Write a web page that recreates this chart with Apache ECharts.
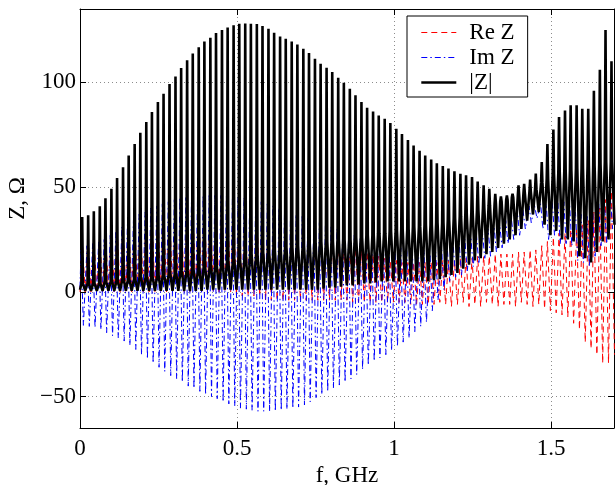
<!DOCTYPE html>
<html><head><meta charset="utf-8">
<script src="https://cdn.jsdelivr.net/npm/echarts@6/dist/echarts.min.js"></script>
<style>html,body{margin:0;padding:0;background:#fff}#c{width:616px;height:485px}</style>
</head><body><div id="c"></div>
<script>
// ---- data ----
const seriesNames = ['Re Z', 'Im Z', '|Z|'];
const xTickLabels = ['0', '0.5', '1', '1.5'];
const yTickLabels = ['\u221250', '0', '50', '100'];

// frequency (GHz) of each |Z| resonance peak
const freqPeak = [
0.007,0.026,0.044,0.063,0.081,0.100,0.118,0.137,0.155,0.174,
0.192,0.211,0.229,0.248,0.266,0.285,0.304,0.322,0.341,0.359,
0.378,0.396,0.415,0.433,0.452,0.470,0.489,0.507,0.526,0.544,
0.563,0.581,0.600,0.618,0.637,0.655,0.674,0.692,0.711,0.729,
0.748,0.766,0.785,0.803,0.822,0.840,0.859,0.877,0.896,0.914,
0.933,0.951,0.970,0.988,1.007,1.025,1.044,1.062,1.081,1.099,
1.118,1.136,1.155,1.173,1.192,1.211,1.229,1.248,1.266,1.285,
1.303,1.322,1.340,1.359,1.377,1.396,1.414,1.433,1.451,1.470,
1.488,1.507,1.525,1.544,1.562,1.581,1.599,1.618,1.636,1.655,
1.673,1.692];

// values at f = 0 : |Z|, Re Z, Im Z
const valuesAtZero = [1, 0, 2];

// |Z| : peak, shoulder (flank) and trough (after each peak)
const absPeak = [
35.7,36.5,38.5,40.9,44.7,49.2,54.3,59.5,65.1,70.5,
75.9,81.0,85.8,90.6,94.6,99.2,102.8,106.8,110.5,113.7,
116.8,119.5,121.3,123.5,125.0,126.2,127.2,128.0,128.1,127.9,
127.8,126.9,125.6,123.7,121.9,120.8,119.5,118.0,116.0,114.0,
111.3,108.9,107.0,104.9,102.2,99.8,96.9,93.8,90.6,87.9,
86.1,84.2,82.6,80.6,77.8,75.3,72.5,69.8,67.3,65.1,
63.1,61.4,60.0,58.8,57.6,56.4,55.6,54.8,52.7,50.8,
49.2,46.8,45.5,46.0,46.8,50.8,51.6,53.6,56.4,62.0,
70.6,77.5,83.4,86.6,89.0,89.0,87.4,87.4,96.0,106.0,
125.0,110.0];
const absShoulder = [
4,4,4,4,5,5,5,6,6,6,
7,7,7,8,8,9,9,10,10,11,
11,12,12,13,14,14,15,16,17,18,
18,19,19,20,20,21,21,22,22,23,
23,24,24,24,25,25,25,26,26,27,
27,28,28,29,29,30,30,31,31,32,
32,33,33,34,35,36,37,38,39,40,
41,42,43,44,45,46,47,48,49,52,
54,56,57,58,58,59,59,60,60,61,
62,62];
const absTrough = [
0.5,0.5,0.5,0.5,0.5,0.5,0.5,0.5,0.5,0.5,
0.5,0.5,0.5,0.5,0.5,0.5,0.5,0.5,0.5,0.5,
0.5,1,1,1,1,1,1,1,1,1,
1,1,1,1,1,1,1,1,1,1,
1,1.5,2,2,2.5,3,3,3.5,4,4,
4.5,5,5,5,5,5,5,5,5,5,
5.5,6,7,8,9,11,13,15,16,18,
19,21,23,25,27,30,34,37,38,32,
27,29,25,25,24,17,16,14,19,24,
25,32];

// Re Z : peak (at resonance) and trough (after each peak)
const rePeak = [
25,26,27,28,29,30,31,32,33,34,
35,36,37,38,39,40,40,41,41,42,
42,42,42,42,42,41,41,40,40,39,
38,37,36,35,34,33,32,31,30,29,
28,27,26,25,24,23,22,21,20,19,
18,17,16,15,15,14,14,14,14,14,
14,14,15,15,15,16,16,16,17,17,
17,18,18,18,18,19,19,20,20,22,
24,26,28,28,30,30,32,34,38,40,
44,48];
const reTrough = [
0,0,0,0,0,0,0,0,0,0,
0,0,0,0,0,0,0,0,0,0,
0,0,0,0,0,0,-2,-2,-2,-2,
-2,-4,-4,-4,-4,-4,-4,-4,-4,-4,
-4,-4,-4,-4,-4,-4,-5,-5,-5,-5,
-5,-5,-5,-5,-5,-5,-6,-6,-6,-6,
-6,-5,-6,-7,-6,-5,-7,-6,-7,-5,
-6,-7,-6,-6,-7,-5,-6,-7,-6,-8,
-9,-10,-11,-12,-15,-18,-24,-27,-30,-34,
-34,-30];

// Im Z : positive extreme (below resonance) and negative extreme (above resonance)
const imPeak = [
20,22,23,24,25,27,29,31,33,35,
37,38,40,41,42,43,44,45,45,46,
46,46,46,46,46,46,45,45,45,44,
44,43,42,41,40,39,38,37,36,35,
34,33,32,31,30,29,28,27,26,25,
24,23,22,22,21,21,20,20,20,20,
18,19,20,21,22,23,25,26,27,28,
30,31,32,34,35,38,39,41,41,42,
42,43,43,43,43,38,37,36,38,42,
43,45];
const imTrough = [
-16,-16.5,-17,-18,-19.5,-21,-22,-23.5,-25.5,-27.5,
-30,-32,-34,-36,-38,-40,-41.5,-43,-45,-46,
-47.5,-49,-50,-51,-52.5,-53.5,-54.5,-55.5,-56,-56.5,
-57,-57,-57,-57,-56.5,-56,-55.5,-55,-54,-52.5,
-50.5,-49,-47.5,-46,-44.5,-43,-41.5,-39.5,-37,-35,
-33,-31.5,-30,-28,-26,-24,-22,-19,-16.5,-14.5,
-9,-4,1,5,7,8,10,12,14,16,
17,19,21,23,25,27,30,33,35,30,
25,27,23,23,22,15,14,12,17,22,
23,30];

// ---- build the polylines from the arrays ----
function spacing(k) {
  return k < freqPeak.length - 1 ? freqPeak[k + 1] - freqPeak[k] : freqPeak[k] - freqPeak[k - 1];
}
const absData = [[0, valuesAtZero[0]]];
const reData = [[0, valuesAtZero[1]]];
const imData = [[0, valuesAtZero[2]]];
for (let k = 0; k < freqPeak.length; k++) {
  const f = freqPeak[k], P = spacing(k);
  absData.push([f - 0.12 * P, absShoulder[k]], [f, absPeak[k]], [f + 0.12 * P, absShoulder[k]], [f + 0.5 * P, absTrough[k]]);
  reData.push([f, rePeak[k]], [f + 0.5 * P, reTrough[k]]);
  imData.push([f - 0.2 * P, imPeak[k]], [f + 0.2 * P, imTrough[k]]);
}

const FONT = '"Liberation Serif", "Times New Roman", serif';
const black = '#000';
const gridLine = { show: true, lineStyle: { color: '#8c8c8c', width: 1, type: [1, 3] } };
const tickIn = { show: true, inside: true, length: 6, lineStyle: { color: black, width: 1 } };
const labelStyle = { fontFamily: FONT, fontSize: 23, color: black };

function xFmt(v) { const i = [0, 0.5, 1, 1.5].indexOf(+v.toFixed(3)); return i >= 0 ? xTickLabels[i] : ''; }
function yFmt(v) { const i = [-50, 0, 50, 100].indexOf(Math.round(v)); return i >= 0 ? yTickLabels[i] : ''; }

const chart = echarts.init(document.getElementById('c'), null, { renderer: 'canvas' });
chart.setOption({
  animation: false,
  backgroundColor: '#fff',
  grid: { left: 80, right: 2, top: 9, bottom: 57, containLabel: false, outerBoundsMode: 'none' },
  legend: {
    data: seriesNames, orient: 'vertical', left: 407, top: 16,
    padding: [5, 13, 3, 13], itemWidth: 35, itemHeight: 14, itemGap: 2,
    borderColor: black, borderWidth: 1, backgroundColor: '#fff',
    itemStyle: { opacity: 0, borderWidth: 0 },
    lineStyle: { width: 'inherit', type: 'inherit' },
    textStyle: { fontFamily: FONT, fontSize: 23, color: black, padding: [0, 0, 0, 8] }
  },
  xAxis: [
    { type: 'value', position: 'bottom', min: 0, max: 1.7, interval: 0.5,
      name: 'f, GHz', nameLocation: 'middle', nameGap: 16,
      nameTextStyle: labelStyle,
      axisLine: { show: true, onZero: false, lineStyle: { color: black, width: 1 } },
      axisTick: tickIn,
      axisLabel: Object.assign({ margin: 9, formatter: xFmt, showMaxLabel: false }, labelStyle),
      splitLine: gridLine },
    { type: 'value', position: 'top', min: 0, max: 1.7, interval: 0.5,
      axisLine: { show: true, onZero: false, lineStyle: { color: black, width: 1 } },
      axisTick: tickIn, axisLabel: { show: false }, splitLine: { show: false } }
  ],
  yAxis: [
    { type: 'value', position: 'left', min: -65, max: 135, splitNumber: 4,
      name: 'Z, \u03A9', nameLocation: 'middle', nameGap: 46,
      nameTextStyle: Object.assign({ padding: [0, 0, 0, 40] }, labelStyle),
      axisLine: { show: true, onZero: false, lineStyle: { color: black, width: 1 } },
      axisTick: tickIn,
      axisLabel: Object.assign({ margin: 4, formatter: yFmt, showMinLabel: false, showMaxLabel: false }, labelStyle),
      splitLine: gridLine },
    { type: 'value', position: 'right', min: -65, max: 135, splitNumber: 4,
      axisLine: { show: true, onZero: false, lineStyle: { color: black, width: 1 } },
      axisTick: tickIn, axisLabel: { show: false }, splitLine: { show: false } }
  ],
  series: [
    { name: seriesNames[0], type: 'line', data: reData, symbol: 'none', showSymbol: false,
      lineStyle: { color: '#ff0000', width: 1, type: [6, 4] }, itemStyle: { color: '#ff0000' },
      silent: true, emphasis: { disabled: true } },
    { name: seriesNames[1], type: 'line', data: imData, symbol: 'none', showSymbol: false,
      lineStyle: { color: '#0000ff', width: 1, type: [6, 3, 1.5, 3] }, itemStyle: { color: '#0000ff' },
      silent: true, emphasis: { disabled: true } },
    { name: seriesNames[2], type: 'line', data: absData, symbol: 'none', showSymbol: false,
      lineStyle: { color: black, width: 2.6 }, itemStyle: { color: black },
      silent: true, emphasis: { disabled: true } }
  ]
});
</script></body></html>
